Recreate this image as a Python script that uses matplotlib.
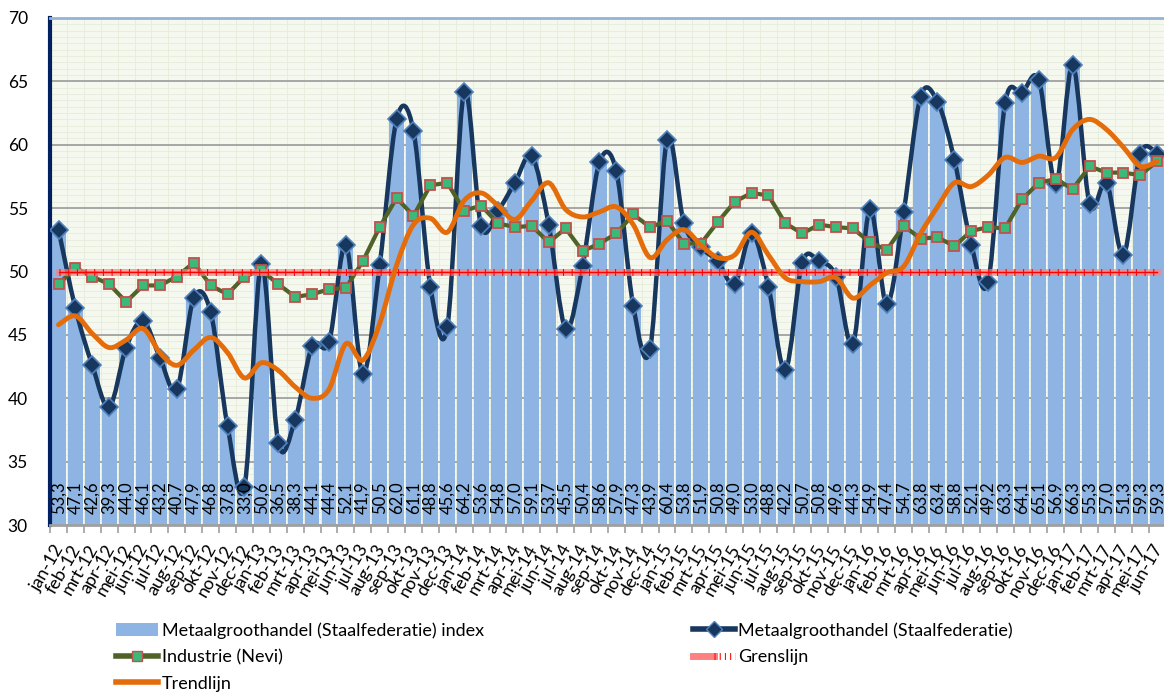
import numpy as np
import matplotlib.pyplot as plt
import matplotlib.transforms as mtransforms
from matplotlib.path import Path
from matplotlib.patches import PathPatch, Patch
from matplotlib.lines import Line2D
from matplotlib.legend_handler import HandlerTuple

plt.rcParams['font.family'] = ['Lato', 'DejaVu Sans']

month_names = ['jan', 'feb', 'mrt', 'apr', 'mei', 'jun', 'jul', 'aug', 'sep', 'okt', 'nov', 'dec']
months = [f'{m}-{y}' for y in range(12, 18) for m in month_names][:66]

metaal = [53.3, 47.1, 42.6, 39.3, 44.0, 46.1, 43.2, 40.7, 47.9, 46.8, 37.8, 33.0,
          50.6, 36.5, 38.3, 44.1, 44.4, 52.1, 41.9, 50.5, 62.0, 61.1, 48.8, 45.6,
          64.2, 53.6, 54.8, 57.0, 59.1, 53.7, 45.5, 50.4, 58.6, 57.9, 47.3, 43.9,
          60.4, 53.8, 51.9, 50.8, 49.0, 53.0, 48.8, 42.2, 50.7, 50.8, 49.6, 44.3,
          54.9, 47.4, 54.7, 63.8, 63.4, 58.8, 52.1, 49.2, 63.3, 64.1, 65.1, 56.9,
          66.3, 55.3, 57.0, 51.3, 59.3, 59.3]

industrie = [49.0, 50.3, 49.6, 49.0, 47.6, 48.9, 48.9, 49.6, 50.7, 48.9, 48.2, 49.6,
             50.1, 49.0, 48.0, 48.2, 48.6, 48.7, 50.8, 53.5, 55.8, 54.4, 56.8, 57.0,
             54.8, 55.2, 53.8, 53.5, 53.6, 52.3, 53.4, 51.6, 52.2, 53.0, 54.5, 53.5,
             54.0, 52.2, 52.2, 53.9, 55.5, 56.2, 56.0, 53.8, 53.0, 53.7, 53.5, 53.4,
             52.3, 51.7, 53.6, 52.6, 52.7, 52.0, 53.2, 53.5, 53.4, 55.7, 57.0, 57.3,
             56.5, 58.3, 57.8, 57.8, 57.6, 58.7]

trend = [45.8, 46.5, 45.1, 44.0, 44.6, 45.5, 43.6, 42.6, 43.8, 44.8, 43.6, 41.6,
         42.8, 42.2, 40.9, 40.0, 40.7, 44.3, 43.0, 45.9, 50.5, 53.7, 54.2, 53.1,
         55.6, 56.2, 55.2, 54.1, 55.6, 57.0, 54.9, 54.3, 54.7, 55.1, 53.7, 51.1,
         52.5, 53.3, 52.1, 51.1, 51.3, 53.1, 51.3, 49.5, 49.2, 49.2, 49.5, 47.9,
         48.9, 49.9, 50.4, 53.0, 55.1, 57.0, 56.7, 57.6, 59.0, 58.6, 59.1, 59.0,
         61.2, 62.0, 61.2, 59.8, 58.3, 58.7]

grens = [50.0] * 66

bar_color = '#8DB4E2'
navy = '#17375E'
olive = '#4F6228'
orange = '#E46C0A'


def smooth_path(xs, ys):
    # Excel-style smoothed line: bezier segments through the points
    n = len(xs)
    verts = [(xs[0], ys[0])]
    codes = [Path.MOVETO]
    for i in range(n - 1):
        a = max(i - 1, 0)
        b = min(i + 2, n - 1)
        c1 = (xs[i] + (xs[i + 1] - xs[a]) / 6, ys[i] + (ys[i + 1] - ys[a]) / 6)
        c2 = (xs[i + 1] - (xs[b] - xs[i]) / 6, ys[i + 1] - (ys[b] - ys[i]) / 6)
        verts += [c1, c2, (xs[i + 1], ys[i + 1])]
        codes += [Path.CURVE4] * 3
    return Path(verts, codes)


x = np.arange(len(months))

fig = plt.figure(figsize=(11.64, 6.92), dpi=100)
ax = fig.add_axes([0.043, 0.2413, 0.957, 0.7327])
ax.set_facecolor('#F5F8EE')

ax.bar(x, metaal, width=0.88, bottom=0, color=bar_color, zorder=2)

# smoothed Metaalgroothandel line with diamonds
ax.add_patch(PathPatch(smooth_path(x, metaal), fill=False, edgecolor=navy, lw=3.2,
                       capstyle='round', joinstyle='round', zorder=3))
ax.plot(x, metaal, ls='none', marker='D', ms=9, mfc=navy, mec='#4F81BD', mew=1.2, zorder=4)

# Industrie (Nevi)
ax.plot(x, industrie, color=olive, lw=3, zorder=5)
ax.plot(x, industrie, ls='none', marker='s', ms=7, mfc='#3CB878', mec='#C0504D', mew=1.3, zorder=6)

# Grenslijn
ax.plot(x, grens, color='#FF8080', lw=5, alpha=0.7, zorder=7)
ax.plot(x, grens, color='#FF0000', lw=1, zorder=7)
ax.plot(x, grens, color='#FF0000', lw=5, dashes=[0.15, 1.1], zorder=7)

# Trendlijn
ax.add_patch(PathPatch(smooth_path(x, trend), fill=False, edgecolor=orange, lw=3.5,
                       capstyle='round', joinstyle='round', zorder=8))

# data labels at bar bottoms
for i, v in enumerate(metaal):
    ax.annotate(f'{v:.1f}'.replace('.', ','), xy=(i, 30), xytext=(0, 8),
                textcoords='offset points', rotation=90, ha='center', va='bottom',
                fontsize=12, color='black', zorder=9)

ax.set_ylim(30, 70)
ax.set_xlim(-0.5, 65.4)
ax.set_yticks(range(30, 71, 5))
ax.set_yticks(np.arange(30, 70, 0.5), minor=True)
ax.set_xticks(x - 0.5, minor=True)
ax.grid(axis='y', which='major', color='#A0A0A0', lw=1.3, zorder=1)
ax.grid(which='minor', color='#E6ECDA', lw=0.6, zorder=1)
ax.set_axisbelow(True)

ax.tick_params(axis='y', which='both', length=0, pad=16, labelsize=12.5)
ax.tick_params(axis='x', which='minor', length=6, color='#A0A0A0', width=1.2)
ax.set_xticks(x)
ax.set_xticklabels(months, rotation=60, ha='right', va='center', rotation_mode='anchor',
                   fontsize=13)
ax.tick_params(axis='x', which='major', length=0, pad=15)
shift = mtransforms.ScaledTranslation(2 / 100, 0, fig.dpi_scale_trans)
for lab in ax.get_xticklabels():
    lab.set_transform(lab.get_transform() + shift)

ax.spines['right'].set_visible(False)
ax.spines['left'].set_color('#002060')
ax.spines['left'].set_linewidth(3)
ax.spines['top'].set_color('#95B3D7')
ax.spines['top'].set_linewidth(2)
ax.spines['bottom'].set_color('#A0A0A0')
ax.spines['bottom'].set_linewidth(2)

h_bar = Patch(facecolor=bar_color, edgecolor='none')
h_metaal = Line2D([], [], color=navy, lw=4, marker='D', ms=8, mfc=navy, mec='#4F81BD')
h_ind = Line2D([], [], color=olive, lw=4, marker='s', ms=7, mfc='#3CB878', mec='#C0504D')
h_grens = (Line2D([], [], color='#FF6060', lw=5, alpha=0.8),
           Line2D([], [], color='#FF0000', lw=5, dashes=[0.15, 0.6]))
h_trend = Line2D([], [], color=orange, lw=4)

fig.legend([h_bar, h_ind, h_trend, h_metaal, h_grens],
           ['Metaalgroothandel (Staalfederatie) index', 'Industrie (Nevi)', 'Trendlijn',
            'Metaalgroothandel (Staalfederatie)', 'Grenslijn'],
           handler_map={tuple: HandlerTuple(ndivide=None)},
           ncol=2, loc='upper left', bbox_to_anchor=(0.1, 0.101),
           frameon=False, fontsize=13, borderpad=0, borderaxespad=0,
           handlelength=2.3, handletextpad=0.2, columnspacing=11.6, labelspacing=0.58,
           numpoints=1)

fig.savefig('out.png', dpi=100)
